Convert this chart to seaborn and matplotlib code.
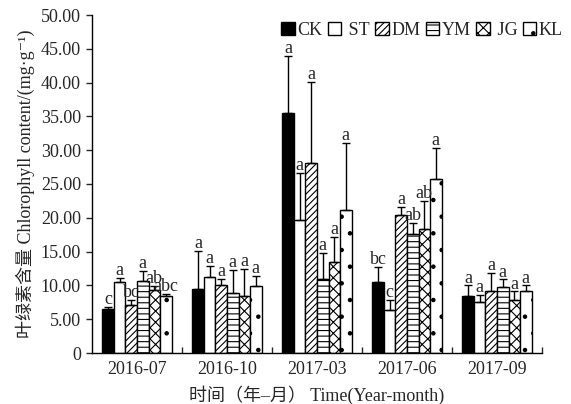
import numpy as np
import pandas as pd
import seaborn as sns
import matplotlib.pyplot as plt
from matplotlib.patches import Patch
from matplotlib.ticker import FuncFormatter, FixedLocator

months = ['2016-07', '2016-10', '2017-03', '2017-06', '2017-09']
treatments = ['CK', 'ST', 'DM', 'YM', 'JG', 'KL']
legend_labels = ['CK', ' ST', 'DM', 'YM', ' JG', 'KL']

# mean chlorophyll content per treatment (one value per month)
ck = [6.5, 9.5, 35.5, 10.5, 8.5]
st = [10.5, 11.3, 19.7, 6.3, 7.5]
dm = [7.1, 10.1, 28.1, 20.4, 9.1]
ym = [10.7, 8.9, 11.0, 17.6, 9.8]
jg = [9.3, 8.5, 13.4, 18.3, 7.9]
kl = [8.5, 9.9, 21.2, 25.8, 9.1]

# upper error (sd)
ck_err = [0.3, 5.6, 8.4, 2.2, 1.5]
st_err = [0.6, 1.6, 7.0, 1.5, 1.1]
dm_err = [0.8, 0.9, 12.0, 1.2, 2.7]
ym_err = [1.5, 3.4, 3.8, 1.7, 1.1]
jg_err = [0.6, 3.9, 3.8, 4.2, 1.2]
kl_err = [0.2, 1.5, 9.9, 4.5, 0.9]

# significance letters
ck_lab = ['c', 'a', 'a', 'bc', 'a']
st_lab = ['a', 'a', 'a', 'c', 'a']
dm_lab = ['bc', 'a', 'a', 'a', 'a']
ym_lab = ['a', 'a', 'a', 'ab', 'a']
jg_lab = ['ab', 'a', 'a', 'ab', 'a']
kl_lab = ['abc', 'a', 'a', 'a', 'a']

means = [ck, st, dm, ym, jg, kl]
errs = [ck_err, st_err, dm_err, ym_err, jg_err, kl_err]
labels = [ck_lab, st_lab, dm_lab, ym_lab, jg_lab, kl_lab]

colors = ['black', 'white', 'white', 'white', 'white', 'white']
hatches = ['', '', '/////', '---', 'xxx', '.']

rows = []
for t, vals in zip(treatments, means):
    for m, v in zip(months, vals):
        rows.append({'month': m, 'treatment': t, 'value': v})
df = pd.DataFrame(rows)

sns.set_style('ticks')
plt.rcParams['font.family'] = ['Liberation Serif', 'Noto Sans CJK SC', 'DejaVu Sans']
plt.rcParams['hatch.linewidth'] = 0.8

fig = plt.figure(figsize=(5.71, 4.04), dpi=100)
ax = fig.add_axes([92 / 571, 1 - 353 / 404, 450 / 571, 338 / 404])

sns.barplot(data=df, x='month', y='value', hue='treatment',
            order=months, hue_order=treatments, palette=colors,
            saturation=1, width=0.77, gap=0, edgecolor='black',
            linewidth=1, errorbar=None, legend=False, ax=ax)

bar_groups = list(ax.containers)
for i, cont in enumerate(bar_groups):
    for bar, e, lab in zip(cont, errs[i], labels[i]):
        bar.set_hatch(hatches[i])
        x = bar.get_x() + bar.get_width() / 2
        top = bar.get_height()
        ax.errorbar(x, top, yerr=[[0], [e]], fmt='none', ecolor='black',
                    elinewidth=1, capsize=3, capthick=1, zorder=3)
        ax.annotate(lab, (x, top + e), xytext=(0, 2), textcoords='offset points',
                    ha='center', va='baseline', fontsize=13, zorder=4)

ax.set_xlim(-0.5, 4.5)
ax.set_ylim(0, 50)
ax.yaxis.set_major_locator(FixedLocator(np.arange(0, 51, 5)))
ax.yaxis.set_major_formatter(FuncFormatter(lambda v, p: '0' if v == 0 else f'{v:.2f}'))
ax.xaxis.set_minor_locator(FixedLocator([0.5, 1.5, 2.5, 3.5, 4.5]))
ax.tick_params(axis='y', direction='out', length=4, width=1, labelsize=13, pad=4)
ax.tick_params(axis='x', which='major', length=0, labelsize=13, pad=6)
ax.tick_params(axis='x', which='minor', direction='in', length=4, width=1)
for s in ['top', 'right']:
    ax.spines[s].set_visible(False)
for s in ['left', 'bottom']:
    ax.spines[s].set_linewidth(1)
    ax.spines[s].set_color('black')

ax.set_xlabel('时间（年–月） Time(Year-month)', fontsize=13, labelpad=5)
ax.set_ylabel('叶绿素含量 Chlorophyll content/(mg·g⁻¹)', fontsize=13, labelpad=4)

handles = [Patch(facecolor=colors[i], edgecolor='black', hatch=hatches[i], label=legend_labels[i])
           for i in range(len(treatments))]
fig.legend(handles=handles, loc='upper right', bbox_to_anchor=(563 / 571, 1 - 22 / 404),
           ncol=6, frameon=False, fontsize=13, handlelength=0.75, handleheight=0.75,
           handletextpad=0.15, columnspacing=0.3, borderaxespad=0, borderpad=0)

fig.savefig('out.png', dpi=100)
